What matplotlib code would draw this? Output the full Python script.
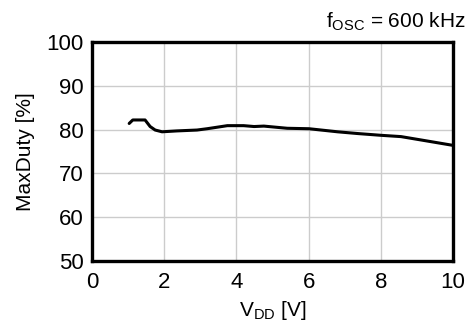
import numpy as np
import matplotlib
matplotlib.use('Agg')
import matplotlib.pyplot as plt

# MaxDuty vs VDD
vdd = [1.03, 1.13, 1.47, 1.61, 1.75, 1.94, 2.35, 2.91, 3.19, 3.75, 4.2, 4.49,
       4.76, 5.41, 6.01, 6.8, 7.36, 8.0, 8.56, 9.21, 10.0]
duty = [81.4, 82.2, 82.2, 80.7, 79.9, 79.5, 79.7, 79.9, 80.2, 80.9, 80.9, 80.7,
        80.8, 80.3, 80.2, 79.5, 79.1, 78.7, 78.4, 77.5, 76.4]
xticks = [0, 2, 4, 6, 8, 10]
yticks = [50, 60, 70, 80, 90, 100]

plt.rcParams['font.family'] = ['Liberation Sans', 'DejaVu Sans']
plt.rcParams['mathtext.fontset'] = 'custom'
plt.rcParams['mathtext.rm'] = 'Liberation Sans'
plt.rcParams['mathtext.it'] = 'Liberation Sans:italic'
plt.rcParams['mathtext.bf'] = 'Liberation Sans:bold'

fig = plt.figure(figsize=(4.7, 3.31), dpi=100)
ax = fig.add_axes([92/470, 70/331, 361/470, 219/331])

ax.plot(vdd, duty, color='black', lw=2.2, solid_capstyle='round')

ax.set_xlim(0, 10)
ax.set_ylim(50, 100)
ax.set_xticks(xticks)
ax.set_yticks(yticks)
ax.tick_params(length=0, labelsize=16)
ax.tick_params(axis='x', pad=8)
ax.tick_params(axis='y', pad=6)
ax.grid(True, color='#cccccc', lw=1.0)
ax.set_axisbelow(True)
for s in ax.spines.values():
    s.set_linewidth(2.4)

ax.set_xlabel(r'V$_{\mathrm{DD}}$ [V]', fontsize=15, labelpad=4)
ax.set_ylabel('MaxDuty [%]', fontsize=15, labelpad=8)

fig.text(466/470, (331-28)/331, r'f$_{\mathrm{OSC}}$ = 600 kHz', fontsize=15,
         ha='right', va='baseline')

fig.savefig('out.png', dpi=100)
